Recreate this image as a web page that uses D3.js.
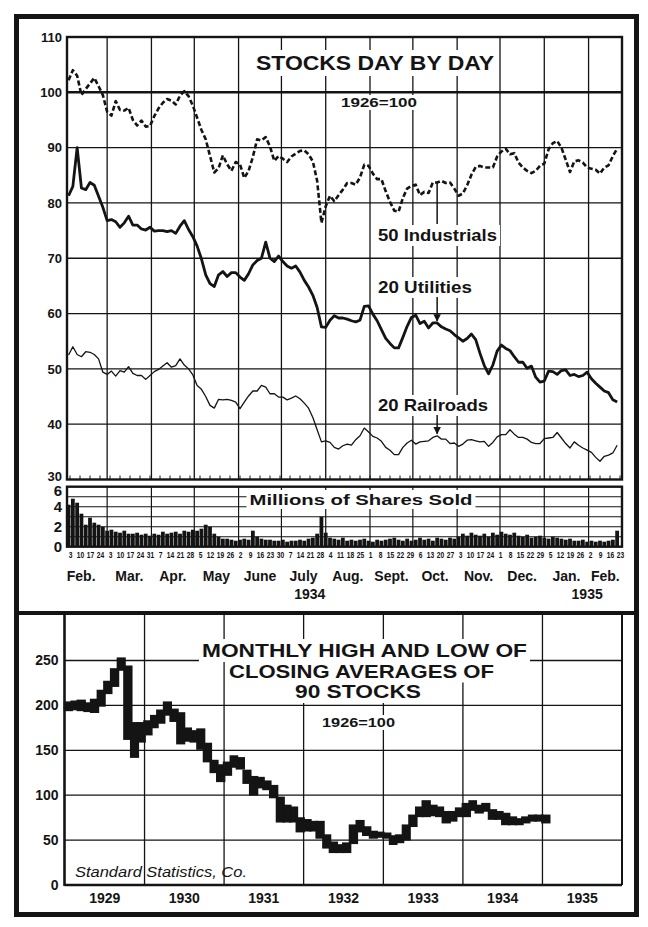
<!DOCTYPE html>
<html>
<head>
<meta charset="utf-8">
<script src="https://cdn.jsdelivr.net/npm/d3@7"></script>
<style>
  body { margin: 0; background: #fff; }
  svg { display: block; }
  text { font-family: "Liberation Sans", Arial, sans-serif; fill: #141414; }
</style>
</head>
<body>
<svg id="chart" width="648" height="927"></svg>
<script>
// ---------- Daily averages, Feb 1934 - Feb 1935 (1926 = 100), one reading every 3 days ----------
const sessionStart = new Date(1934, 1, 2);
const sessionStepDays = 3;

const industrials = [
  102.2,104.0,103.0,99.5,100.6,101.6,102.6,101.1,99.5,96.5,
  95.8,98.4,96.8,96.7,97.2,95.0,94.0,94.9,93.8,93.9,
  95.7,97.1,98.1,98.8,98.5,97.8,99.4,100.2,99.3,97.6,
  95.4,93.2,91.5,88.5,85.5,86.3,88.6,87.0,85.8,87.4,
  87.0,84.5,85.8,88.3,91.5,91.3,91.9,90.2,87.6,88.5,
  88.0,87.4,88.4,88.9,89.4,89.5,88.8,87.5,84.0,76.4,
  79.4,81.3,80.3,81.4,82.4,83.6,83.6,83.3,84.6,86.9,
  86.7,85.3,84.3,84.3,82.1,80.2,78.6,78.4,80.9,82.6,
  83.1,83.3,81.4,82.0,81.8,83.7,83.7,84.0,83.6,83.7,
  82.6,81.3,81.7,83.2,85.1,86.5,86.7,86.4,86.4,86.4,
  88.4,89.3,89.8,88.8,89.0,87.3,86.4,85.8,85.4,85.8,
  86.7,87.1,89.7,90.8,91.2,90.0,87.8,85.6,87.5,87.7,
  87.3,86.4,86.2,86.0,85.3,86.4,86.8,88.5,89.8
];

const utilities = [
  81.3,83.0,90.0,82.7,82.4,83.7,83.2,81.2,79.2,76.8,
  77.0,76.6,75.6,76.4,77.6,76.0,76.0,75.3,75.1,75.6,
  74.9,75.0,75.0,74.8,75.0,74.5,75.8,76.8,75.2,73.9,
  72.2,69.9,67.0,65.4,64.9,67.0,67.6,66.7,67.4,67.4,
  66.6,66.0,67.2,68.8,69.6,70.0,72.9,70.0,69.4,70.4,
  69.4,68.6,68.2,68.6,67.5,66.0,64.8,63.3,61.1,57.6,
  57.5,58.8,59.6,59.2,59.2,59.0,58.7,58.5,58.8,61.3,
  61.4,59.9,58.7,57.1,55.5,54.6,53.8,53.8,55.7,57.7,
  59.3,59.7,58.2,58.6,57.4,58.3,58.3,57.6,57.2,56.9,
  56.2,55.6,55.0,55.5,56.3,55.3,52.8,50.6,49.1,50.7,
  53.2,54.3,53.7,53.3,52.2,51.2,51.2,50.1,50.5,48.5,
  47.6,47.8,49.6,49.5,49.0,49.7,49.8,48.8,49.0,48.6,
  48.8,49.4,48.2,47.4,46.7,46.0,45.7,44.4,44.0
];

const railroads = [
  52.5,54.0,52.6,52.2,53.1,53.0,52.6,51.8,49.4,49.0,
  49.6,48.7,49.7,49.4,50.4,49.2,48.8,48.8,48.1,48.8,
  49.5,49.9,50.5,51.1,50.3,50.6,51.8,50.7,50.0,48.9,
  47.0,46.3,45.0,43.4,42.9,44.5,44.4,44.5,44.3,44.0,
  42.8,44.0,45.1,46.0,46.0,47.0,46.7,45.5,45.5,44.9,
  44.9,44.4,44.7,45.1,44.6,43.8,42.9,41.2,39.0,36.8,
  37.0,36.7,35.8,35.5,36.1,36.4,36.2,37.2,37.9,39.3,
  38.6,37.8,37.5,36.9,35.8,35.3,34.5,34.5,35.8,36.6,
  37.1,36.4,36.8,36.9,37.0,37.6,37.9,37.3,37.3,36.5,
  36.6,36.0,36.4,37.1,37.2,37.0,36.8,36.9,36.0,36.7,
  37.7,38.1,38.1,39.0,38.2,37.6,37.6,37.3,36.7,36.5,
  36.5,37.4,37.5,37.6,38.5,37.5,36.5,35.7,36.8,36.2,
  35.7,35.3,34.9,34.0,33.3,34.2,34.4,34.8,36.2
];

// Millions of shares sold
const volume = [
  4.2,4.8,4.4,3.3,2.2,2.9,2.4,2.2,2.0,1.6,
  1.7,1.5,1.4,1.6,1.3,1.3,1.4,1.2,1.3,1.1,
  1.3,1.2,1.5,1.3,1.4,1.5,1.3,1.6,1.5,1.7,
  1.6,1.8,2.2,2.0,1.3,1.0,0.8,0.8,0.7,0.6,
  0.7,0.8,0.7,1.6,1.0,0.8,0.7,0.7,0.6,0.6,
  0.7,0.5,0.6,0.6,0.7,0.6,0.8,0.9,1.3,3.0,
  1.4,0.9,0.8,0.7,0.9,0.6,0.7,0.6,0.7,0.8,
  0.6,0.5,0.7,0.6,0.7,0.8,0.9,0.7,0.6,0.8,
  0.6,0.7,0.9,0.7,0.8,0.6,0.9,0.8,0.7,0.9,
  0.8,1.0,1.3,1.1,1.4,1.2,1.1,1.3,1.0,1.4,
  1.2,1.5,1.3,1.2,1.4,1.1,1.0,1.2,0.9,1.0,
  1.1,0.9,0.8,1.0,0.9,0.8,0.7,0.8,0.6,0.6,
  0.7,0.5,0.6,0.5,0.6,0.5,0.6,0.7,1.6
];

const dailyTicks = [30, 40, 50, 60, 70, 80, 90, 100, 110];
const volumeTicks = [0, 2, 4, 6];
const monthNames = ["Feb.", "Mar.", "Apr.", "May", "June", "July", "Aug.", "Sept.", "Oct.", "Nov.", "Dec.", "Jan.", "Feb."];
const seriesLabels = ["50 Industrials", "20 Utilities", "20 Railroads"];
const labelDate = new Date(1934, 9, 18);

// ---------- Monthly high and low, 90 stocks, Jan 1929 - Jan 1935 ----------
const monthlyStart = new Date(1929, 0, 1);
const monthlyHigh = [
  203,204,205,202,206,216,226,240,252,243,180,180,
  182,188,194,203,195,191,174,171,173,157,138,133,
  136,143,141,127,120,119,115,110,97,88,86,74,
  72,70,70,55,47,44,46,66,71,64,59,58,
  57,54,55,66,77,86,93,88,86,81,81,85,
  90,93,88,90,83,81,79,75,73,75,77,77,
  77
];
const monthlyLow = [
  195,196,195,194,193,200,214,222,240,163,143,160,
  168,176,181,190,183,158,161,160,152,138,126,116,
  123,132,130,114,101,109,107,98,71,71,71,60,
  61,61,53,42,37,37,37,47,60,56,53,54,
  53,46,48,51,66,77,77,78,77,70,72,77,
  77,84,81,83,74,74,68,68,68,70,72,72,
  70
];
const monthlyTicks = [0, 50, 100, 150, 200, 250];
const years = [1929, 1930, 1931, 1932, 1933, 1934, 1935];

// ---------- drawing ----------
const ink = "#141414";
const svg = d3.select("#chart");

const sessions = industrials.map((_, i) => d3.timeDay.offset(sessionStart, i * sessionStepDays));
const toRows = arr => arr.map((v, i) => ({ date: sessions[i], v }));

// White backing that breaks the grid behind a text element
function backing(sel, pad) {
  sel.each(function () {
    const b = this.getBBox();
    d3.select(this.parentNode).insert("rect", () => this)
      .attr("x", b.x - pad).attr("y", b.y - pad + 2)
      .attr("width", b.width + 2 * pad).attr("height", b.height + 2 * pad - 4)
      .attr("fill", "#fff");
  });
}

// ======== upper panel: stocks day by day ========
const P = { left: 67, right: 622, top: 37, bottom: 479.5 };
const xDaily = d3.scaleTime().domain([new Date(1934, 1, 3), new Date(1935, 1, 23)]).range([70, 620]);
const yDaily = d3.scaleLinear().domain([30, 110]).range([P.bottom, P.top]);
const axisStart = xDaily.invert(P.left), axisEnd = xDaily.invert(P.right);
const monthStarts = d3.timeMonth.range(new Date(1934, 2, 1), new Date(1935, 1, 2));

const upper = svg.append("g");
upper.append("g").selectAll("line").data(dailyTicks.filter(t => t > 30 && t < 110)).join("line")
  .attr("x1", P.left).attr("x2", P.right)
  .attr("y1", d => yDaily(d)).attr("y2", d => yDaily(d))
  .attr("stroke", ink).attr("stroke-width", d => d === 100 ? 2.4 : 1.3);
upper.append("g").selectAll("line").data(monthStarts).join("line")
  .attr("x1", d => xDaily(d)).attr("x2", d => xDaily(d))
  .attr("y1", P.top).attr("y2", P.bottom)
  .attr("stroke", ink).attr("stroke-width", 1.3);

// weekly ticks along the base
const saturdays = d3.timeSaturday.range(new Date(1934, 1, 3), new Date(1935, 1, 24));
upper.append("g").selectAll("line").data(saturdays).join("line")
  .attr("x1", d => xDaily(d)).attr("x2", d => xDaily(d))
  .attr("y1", P.bottom).attr("y2", P.bottom - 4)
  .attr("stroke", ink).attr("stroke-width", 1);

// title block
const tg = upper.append("g");
tg.append("text").attr("x", 375).attr("y", 70).attr("text-anchor", "middle")
  .attr("font-size", 20).attr("font-weight", 700)
  .attr("textLength", 238).attr("lengthAdjust", "spacingAndGlyphs")
  .text("STOCKS DAY BY DAY").call(backing, 4);
tg.append("text").attr("x", 379).attr("y", 107).attr("text-anchor", "middle")
  .attr("font-size", 13).attr("font-weight", 700)
  .attr("textLength", 76).attr("lengthAdjust", "spacingAndGlyphs")
  .text("1926=100").call(backing, 2);

// series
const line = d3.line().x(d => xDaily(d.date)).y(d => yDaily(d.v));
upper.append("path").datum(toRows(railroads)).attr("d", line)
  .attr("fill", "none").attr("stroke", ink).attr("stroke-width", 1.3).attr("stroke-linejoin", "round");
upper.append("path").datum(toRows(utilities)).attr("d", line)
  .attr("fill", "none").attr("stroke", ink).attr("stroke-width", 2.8).attr("stroke-linejoin", "round");
upper.append("path").datum(toRows(industrials)).attr("d", line)
  .attr("fill", "none").attr("stroke", ink).attr("stroke-width", 2.6)
  .attr("stroke-dasharray", "5,2.6").attr("stroke-linejoin", "round");

// value of a series on a given date
function valueAt(arr, date) {
  const rows = toRows(arr);
  const i = d3.bisector(d => d.date).left(rows, date);
  const a = rows[Math.max(0, i - 1)], b = rows[Math.min(rows.length - 1, i)];
  if (a === b) return a.v;
  const t = (date - a.date) / (b.date - a.date);
  return a.v + (b.v - a.v) * t;
}

// series labels with pointers
svg.append("defs").append("marker").attr("id", "head")
  .attr("viewBox", "0 0 10 10").attr("refX", 9).attr("refY", 5)
  .attr("markerWidth", 5).attr("markerHeight", 6).attr("orient", "auto")
  .append("path").attr("d", "M0,0 L10,5 L0,10 z").attr("fill", ink);

const lx = xDaily(labelDate);
const labelSpecs = [
  { text: seriesLabels[0], y: 241, len: 119, series: industrials, up: true },
  { text: seriesLabels[1], y: 293, len: 94, series: utilities, up: false },
  { text: seriesLabels[2], y: 411, len: 110, series: railroads, up: false }
];
labelSpecs.forEach(s => {
  const g = upper.append("g");
  g.append("text").attr("x", 378).attr("y", s.y)
    .attr("font-size", 17).attr("font-weight", 700)
    .attr("textLength", s.len).attr("lengthAdjust", "spacingAndGlyphs")
    .text(s.text).call(backing, 3);
  const yv = yDaily(valueAt(s.series, labelDate));
  if (s.up) {
    g.append("line").attr("x1", lx).attr("x2", lx).attr("y1", s.y - 17).attr("y2", yv)
      .attr("stroke", ink).attr("stroke-width", 1.5);
  } else {
    g.append("line").attr("x1", lx).attr("x2", lx).attr("y1", s.y + 4).attr("y2", yv - 2)
      .attr("stroke", ink).attr("stroke-width", 1.5).attr("marker-end", "url(#head)");
  }
});

// frame and axis
upper.append("rect").attr("x", P.left).attr("y", P.top)
  .attr("width", P.right - P.left).attr("height", P.bottom - P.top)
  .attr("fill", "none").attr("stroke", ink).attr("stroke-width", 2.4);
const yAxisDaily = upper.append("g").attr("transform", `translate(${P.left},0)`)
  .call(d3.axisLeft(yDaily).tickValues(dailyTicks).tickSize(0).tickPadding(5));
yAxisDaily.select(".domain").remove();
yAxisDaily.selectAll("text").attr("font-size", 13).attr("font-weight", 700)
  .style("font-family", "'Liberation Sans', Arial, sans-serif").attr("fill", ink)
  .attr("dy", d => d === 30 ? "0.05em" : "0.32em");

// ======== volume strip ========
const V = { top: 486.7, bottom: 546.7 };
const yVol = d3.scaleLinear().domain([0, 6]).range([V.bottom, V.top]);
const vol = svg.append("g");
vol.append("g").selectAll("line").data(d3.range(1, 6)).join("line")
  .attr("x1", P.left).attr("x2", P.right)
  .attr("y1", d => yVol(d)).attr("y2", d => yVol(d))
  .attr("stroke", ink).attr("stroke-width", 1.1);
vol.append("g").selectAll("line").data(monthStarts).join("line")
  .attr("x1", d => xDaily(d)).attr("x2", d => xDaily(d))
  .attr("y1", V.top).attr("y2", V.bottom)
  .attr("stroke", ink).attr("stroke-width", 1.2);
vol.append("text").attr("x", 361).attr("y", 505).attr("text-anchor", "middle")
  .attr("font-size", 15).attr("font-weight", 700)
  .attr("textLength", 223).attr("lengthAdjust", "spacingAndGlyphs")
  .text("Millions of Shares Sold").call(backing, 3);
vol.append("g").selectAll("rect").data(toRows(volume)).join("rect")
  .attr("x", d => xDaily(d.date) - 1.9).attr("width", 3.8)
  .attr("y", d => yVol(d.v)).attr("height", d => V.bottom - yVol(d.v))
  .attr("fill", ink);
vol.append("rect").attr("x", P.left).attr("y", V.top)
  .attr("width", P.right - P.left).attr("height", V.bottom - V.top)
  .attr("fill", "none").attr("stroke", ink).attr("stroke-width", 2.4);
const yAxisVol = vol.append("g").attr("transform", `translate(${P.left},0)`)
  .call(d3.axisLeft(yVol).tickValues(volumeTicks).tickFormat(d3.format("d")).tickSize(0).tickPadding(5));
yAxisVol.select(".domain").remove();
yAxisVol.selectAll("text").attr("font-size", 15).attr("font-weight", 700)
  .style("font-family", "'Liberation Sans', Arial, sans-serif").attr("fill", ink)
  .attr("dy", d => d === 6 ? "0.6em" : "0.35em");

// weekly dates
const xAxisWeeks = vol.append("g").attr("transform", `translate(0,${V.bottom + 2})`)
  .call(d3.axisBottom(xDaily).tickValues(saturdays).tickFormat(d3.timeFormat("%-d")).tickSize(0).tickPadding(3));
xAxisWeeks.select(".domain").remove();
xAxisWeeks.selectAll("text").attr("font-size", 9.5).attr("font-weight", 700)
  .attr("transform", "scale(0.7,1)")
  .style("font-family", "'Liberation Sans', Arial, sans-serif").attr("fill", ink);

// month names
const months = d3.timeMonth.range(new Date(1934, 1, 1), new Date(1935, 2, 1));
vol.append("g").selectAll("text").data(months).join("text")
  .attr("x", (d, i) => {
    const a = d < axisStart ? axisStart : d;
    const nx = d3.timeMonth.offset(d, 1);
    const b = nx > axisEnd ? axisEnd : nx;
    return (xDaily(a) + xDaily(b)) / 2 - (i === 0 ? 6 : 0);
  })
  .attr("y", 581).attr("text-anchor", "middle")
  .attr("font-size", 14).attr("font-weight", 700)
  .text((d, i) => monthNames[i]);
[[new Date(1934, 1, 1), new Date(1935, 0, 1), "1934"], [new Date(1935, 0, 1), axisEnd, "1935"]]
  .forEach(([a, b, t]) => {
    vol.append("text").attr("x", (xDaily(a < axisStart ? axisStart : a) + xDaily(b)) / 2 + 4).attr("y", 599)
      .attr("text-anchor", "middle").attr("font-size", 14).attr("font-weight", 700).text(t);
  });

// ======== lower panel: monthly high and low ========
const B = { left: 64.5, right: 622, top: 613, bottom: 885 };
const xMonthly = d3.scaleTime().domain([new Date(1929, 0, 1), new Date(1936, 0, 1)]).range([65, 622]);
const yMonthly = d3.scaleLinear().domain([0, 300]).range([B.bottom, 615.6]);
const lower = svg.append("g");
lower.append("g").selectAll("line").data(monthlyTicks.filter(t => t > 0)).join("line")
  .attr("x1", B.left).attr("x2", B.right)
  .attr("y1", d => yMonthly(d)).attr("y2", d => yMonthly(d))
  .attr("stroke", ink).attr("stroke-width", 1.3);
lower.append("g").selectAll("line").data(years.slice(1)).join("line")
  .attr("x1", d => xMonthly(new Date(d, 0, 1))).attr("x2", d => xMonthly(new Date(d, 0, 1)))
  .attr("y1", B.top).attr("y2", B.bottom)
  .attr("stroke", ink).attr("stroke-width", 1.3);

const bt = lower.append("g");
[["MONTHLY HIGH AND LOW OF", 364.5, 657, 325], ["CLOSING AVERAGES OF", 361.5, 677.5, 265], ["90 STOCKS", 358, 698, 126]]
  .forEach(([t, x, y, len]) => {
    bt.append("text").attr("x", x).attr("y", y).attr("text-anchor", "middle")
      .attr("font-size", 19).attr("font-weight", 700)
      .attr("textLength", len).attr("lengthAdjust", "spacingAndGlyphs")
      .text(t).call(backing, 3);
  });
bt.append("text").attr("x", 358.5).attr("y", 727).attr("text-anchor", "middle")
  .attr("font-size", 13).attr("font-weight", 700)
  .attr("textLength", 73).attr("lengthAdjust", "spacingAndGlyphs")
  .text("1926=100").call(backing, 2);

const monthly = monthlyHigh.map((h, i) => ({
  start: d3.timeMonth.offset(monthlyStart, i), end: d3.timeMonth.offset(monthlyStart, i + 1),
  high: h, low: monthlyLow[i]
}));
lower.append("g").selectAll("rect").data(monthly).join("rect")
  .attr("x", d => xMonthly(d.start)).attr("width", d => xMonthly(d.end) - xMonthly(d.start))
  .attr("y", d => yMonthly(d.high)).attr("height", d => yMonthly(d.low) - yMonthly(d.high))
  .attr("fill", ink).attr("stroke", ink).attr("stroke-width", 2.6);

lower.append("text").attr("x", 75).attr("y", 877)
  .attr("font-size", 15).attr("font-style", "italic").attr("fill", "#333")
  .attr("textLength", 172).attr("lengthAdjust", "spacingAndGlyphs")
  .text("Standard Statistics, Co.");

lower.append("line").attr("x1", B.left).attr("x2", B.left).attr("y1", B.top).attr("y2", B.bottom + 1)
  .attr("stroke", ink).attr("stroke-width", 2.6);
lower.append("line").attr("x1", B.left).attr("x2", B.right).attr("y1", B.bottom).attr("y2", B.bottom)
  .attr("stroke", ink).attr("stroke-width", 2.6);
lower.append("line").attr("x1", B.right).attr("x2", B.right).attr("y1", B.top).attr("y2", B.bottom)
  .attr("stroke", ink).attr("stroke-width", 2);

const yAxisMonthly = lower.append("g").attr("transform", `translate(${B.left},0)`)
  .call(d3.axisLeft(yMonthly).tickValues(monthlyTicks).tickSize(0).tickPadding(6));
yAxisMonthly.select(".domain").remove();
yAxisMonthly.selectAll("text").attr("font-size", 14).attr("font-weight", 700)
  .style("font-family", "'Liberation Sans', Arial, sans-serif").attr("fill", ink);

lower.append("g").selectAll("text").data(years).join("text")
  .attr("x", d => (xMonthly(new Date(d, 0, 1)) + xMonthly(new Date(d + 1, 0, 1))) / 2)
  .attr("y", 903).attr("text-anchor", "middle")
  .attr("font-size", 14).attr("font-weight", 700)
  .text(d => d);

// ======== outer frame and divider ========
svg.append("line").attr("x1", 16).attr("x2", 637).attr("y1", 613).attr("y2", 613)
  .attr("stroke", ink).attr("stroke-width", 4);
svg.append("rect").attr("x", 16.5).attr("y", 16.5).attr("width", 620).attr("height", 898)
  .attr("fill", "none").attr("stroke", ink).attr("stroke-width", 5);
</script>
</body>
</html>
